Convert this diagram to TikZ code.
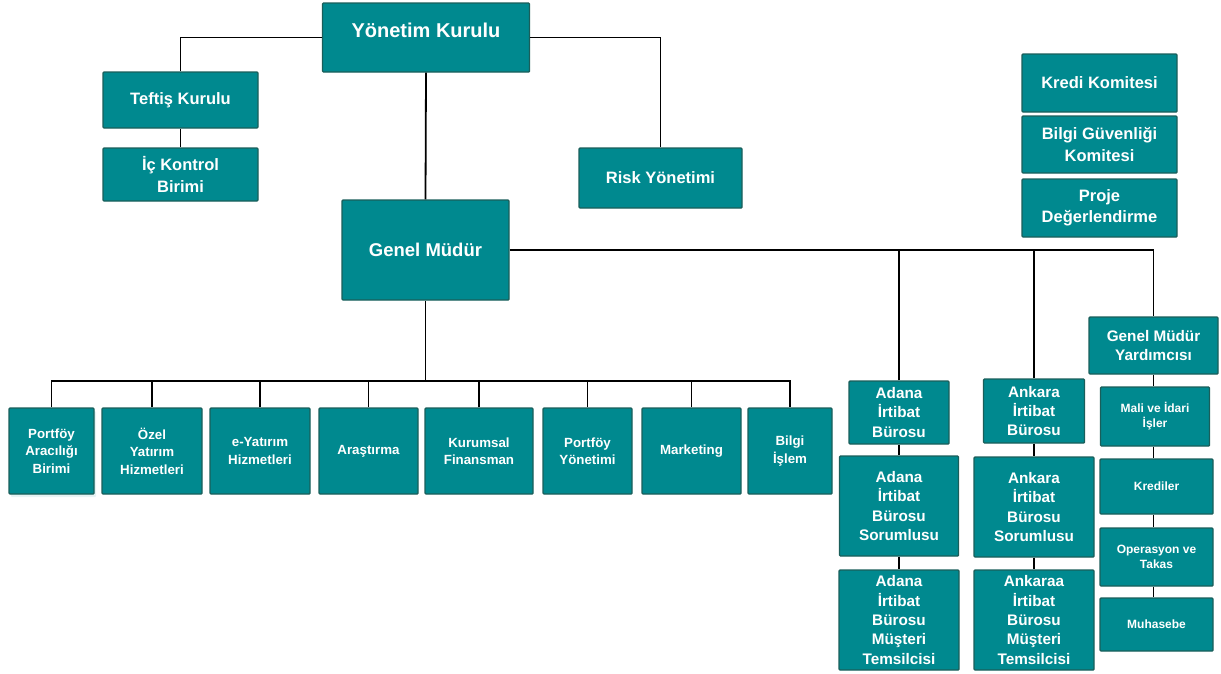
\documentclass[tikz,border=0pt]{standalone}
\usepackage{fontspec}
\setmainfont{Liberation Sans}
\usetikzlibrary{shadows}
\definecolor{boxfill}{RGB}{0,137,143}
\definecolor{boxline}{RGB}{26,94,90}
\begin{document}
\begin{tikzpicture}[x=1pt,y=-1pt,
  box/.style={draw=boxline, fill=boxfill, line width=1.4pt, text=white, align=center, inner sep=0pt, rounded corners=1pt},
  conn/.style={line width=1.8pt, draw=black},
  fA/.style={font=\fontsize{20}{24}\selectfont\bfseries, text=white},
  fGM/.style={font=\fontsize{18.5}{22}\selectfont\bfseries},
  fmid/.style={font=\fontsize{16.5}{21.5}\selectfont\bfseries},
  fbot/.style={font=\fontsize{13.3}{17.5}\selectfont\bfseries},
  fbur/.style={font=\fontsize{15.3}{19.3}\selectfont\bfseries},
  fsm/.style={font=\fontsize{12}{15}\selectfont\bfseries},
  wh/.style 2 args={minimum width=#1pt, minimum height=#2pt}
]
\useasboundingbox (0,0) rectangle (1221,673);

% top level
\node[box, wh={207}{69}] (yk) at (426,37.5) {};
\node[fA, inner sep=0pt] (yktext) at (426,30) {Yönetim Kurulu};
\node[box, fmid, wh={155}{56}] (tk) at (180.5,100) {Teftiş Kurulu};
\node[box, fmid, wh={155}{53}] (ick) at (180.5,174.5) {İç Kontrol\\Birimi};
\node[box, fmid, wh={163}{60}] (risk) at (660.5,178) {Risk Yönetimi};

% committees
\node[box, fmid, wh={155}{58}] (kk) at (1099.5,83) {Kredi Komitesi};
\node[box, fmid, wh={155}{57}] (bgk) at (1099.5,144.5) {Bilgi Güvenliği\\Komitesi};
\node[box, fmid, wh={155}{58}] (pd) at (1099.5,208) {Proje\\Değerlendirme};

% general manager
\node[box, fGM, wh={167}{100}] (gm) at (425.5,250) {Genel Müdür};

% bottom row
\coordinate (bus) at (0,381);
\node[box, fbot, wh={85}{86}, drop shadow={shadow xshift=2pt, shadow yshift=-3pt, opacity=0.2, fill=boxfill!50}] (p1) at (51.5,451) {Portföy\\Aracılığı\\Birimi};
\node[box, fbot, wh={100}{86}] (p2) at (152,451) {Özel\\Yatırım\\Hizmetleri};
\node[box, fbot, wh={100}{86}] (p3) at (260,451) {e-Yatırım\\Hizmetleri};
\node[box, fbot, wh={99}{86}] (p4) at (368.5,451) {Araştırma};
\node[box, fbot, wh={108}{86}] (p5) at (479,451) {Kurumsal\\Finansman};
\node[box, fbot, wh={89}{86}] (p6) at (587.5,451) {Portföy\\Yönetimi};
\node[box, fbot, wh={99}{86}] (p7) at (691.5,451) {Marketing};
\node[box, fbot, wh={84}{86}] (p8) at (790,451) {Bilgi\\İşlem};

% Adana
\node[box, fbur, wh={100}{63}] (ad1) at (899,412.5) {Adana\\İrtibat\\Bürosu};
\node[box, fbur, wh={119}{100}] (ad2) at (899,506) {Adana\\İrtibat\\Bürosu\\Sorumlusu};
\node[box, fbur, wh={120}{100}] (ad3) at (899,620) {Adana\\İrtibat\\Bürosu\\Müşteri\\Temsilcisi};

% Ankara
\node[box, fbur, wh={101}{64}] (an1) at (1034,411) {Ankara\\İrtibat\\Bürosu};
\node[box, fbur, wh={120}{100}] (an2) at (1034,507) {Ankara\\İrtibat\\Bürosu\\Sorumlusu};
\node[box, fbur, wh={120}{100}] (an3) at (1034,620) {Ankaraa\\İrtibat\\Bürosu\\Müşteri\\Temsilcisi};

% deputy GM column
\node[box, fbur, wh={129}{57}] (gmy) at (1153.5,345.5) {Genel Müdür\\Yardımcısı};
\node[box, fsm, wh={109}{59}] (mali) at (1155,416.5) {Mali ve İdari\\İşler};
\node[box, fsm, wh={113}{55}] (kred) at (1156.5,486.5) {Krediler};
\node[box, fsm, wh={113}{58}] (ops) at (1156.5,557) {Operasyon ve\\Takas};
\node[box, fsm, wh={113}{53}] (muh) at (1156.5,624.5) {Muhasebe};

% connectors
\draw[conn] (yk.west) -| (tk.north);
\draw[conn] (tk.south) -- (ick.north);
\draw[conn] (yk.east) -| (risk.north);
\draw[conn] (yk.south) -- (gm.north);

\draw[conn] (gm.east) -- (gm.east -| gmy.north) -- (gmy.north);
\draw[conn] (ad1.north) -- (ad1.north |- gm.east);
\draw[conn] (an1.north) -- (an1.north |- gm.east);

\draw[conn] (ad1.south) -- (ad2.north);
\draw[conn] (ad2.south) -- (ad3.north);
\draw[conn] (an1.south) -- (an2.north);
\draw[conn] (an2.south) -- (an3.north);

\draw[conn] (gmy.south) -- (gmy.south |- mali.north);
\draw[conn] (mali.south -| gmy.south) -- (kred.north -| gmy.south);
\draw[conn] (kred.south -| gmy.south) -- (ops.north -| gmy.south);
\draw[conn] (ops.south -| gmy.south) -- (muh.north -| gmy.south);

\draw[conn] (gm.south) -- (gm.south |- bus);
\draw[conn] (p1.north) -- (p1.north |- bus) -- (p8.north |- bus) -- (p8.north);
\foreach \n in {p2,p3,p4,p5,p6,p7} \draw[conn] (\n.north) -- (\n.north |- bus);
\end{tikzpicture}
\end{document}
